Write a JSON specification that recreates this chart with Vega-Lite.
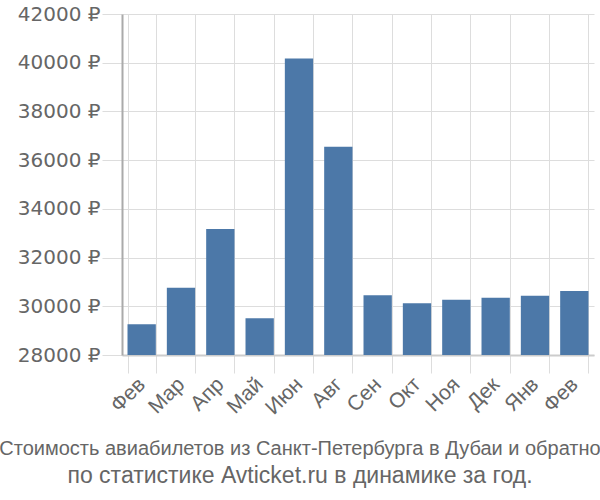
{
  "$schema": "https://vega.github.io/schema/vega-lite/v6.json",
  "width": 472,
  "height": 341,
  "autosize": "none",
  "padding": {"left": 122, "top": 14, "right": 6, "bottom": 145},
  "background": "white",
  "data": {
    "values": [
      {"i": 0, "month": "Фев", "price": 29260},
      {"i": 1, "month": "Мар", "price": 30760},
      {"i": 2, "month": "Апр", "price": 33170},
      {"i": 3, "month": "Май", "price": 29510},
      {"i": 4, "month": "Июн", "price": 40170},
      {"i": 5, "month": "Авг", "price": 36550},
      {"i": 6, "month": "Сен", "price": 30450},
      {"i": 7, "month": "Окт", "price": 30120},
      {"i": 8, "month": "Ноя", "price": 30270},
      {"i": 9, "month": "Дек", "price": 30350},
      {"i": 10, "month": "Янв", "price": 30430},
      {"i": 11, "month": "Фев", "price": 30630}
    ]
  },
  "title": {
    "text": "Стоимость авиабилетов из Санкт-Петербурга в Дубаи и обратно",
    "subtitle": "по статистике Avticket.ru в динамике за год.",
    "orient": "bottom",
    "anchor": "middle",
    "font": "Liberation Sans",
    "fontSize": 20,
    "fontWeight": "normal",
    "color": "#666666",
    "subtitleFont": "Liberation Sans",
    "subtitleFontSize": 23,
    "subtitleColor": "#666666",
    "subtitlePadding": 6,
    "offset": 21,
    "dx": -58
  },
  "mark": {"type": "bar", "color": "#4c78a8", "clip": true},
  "encoding": {
    "x": {
      "field": "i",
      "type": "ordinal",
      "scale": {"paddingInner": 0.28, "paddingOuter": 0.14},
      "axis": {
        "title": null,
        "labelExpr": "['Фев','Мар','Апр','Май','Июн','Авг','Сен','Окт','Ноя','Дек','Янв','Фев'][datum.value]",
        "labelAngle": -45,
        "labelAlign": "right",
        "labelBaseline": "middle",
        "labelFont": "Liberation Sans",
        "labelFontSize": 21,
        "labelColor": "#666666",
        "labelPadding": 8,
        "tickBand": "extent",
        "tickSize": 18,
        "tickColor": "#dddddd",
        "grid": true,
        "gridColor": "#dddddd",
        "domainColor": "#cccccc",
        "domainWidth": 2
      }
    },
    "y": {
      "field": "price",
      "type": "quantitative",
      "scale": {"domain": [28000, 42000], "nice": false, "zero": false},
      "axis": {
        "title": null,
        "values": [28000, 30000, 32000, 34000, 36000, 38000, 40000, 42000],
        "labelExpr": "datum.value + ' ₽'",
        "labelFont": "DejaVu Sans",
        "labelFontSize": 20,
        "labelColor": "#666666",
        "labelPadding": 2,
        "tickSize": 20,
        "tickColor": "#dddddd",
        "grid": true,
        "gridColor": "#dddddd",
        "domainColor": "#aaaaaa",
        "domainWidth": 2
      }
    }
  },
  "config": {"view": {"stroke": null}}
}
